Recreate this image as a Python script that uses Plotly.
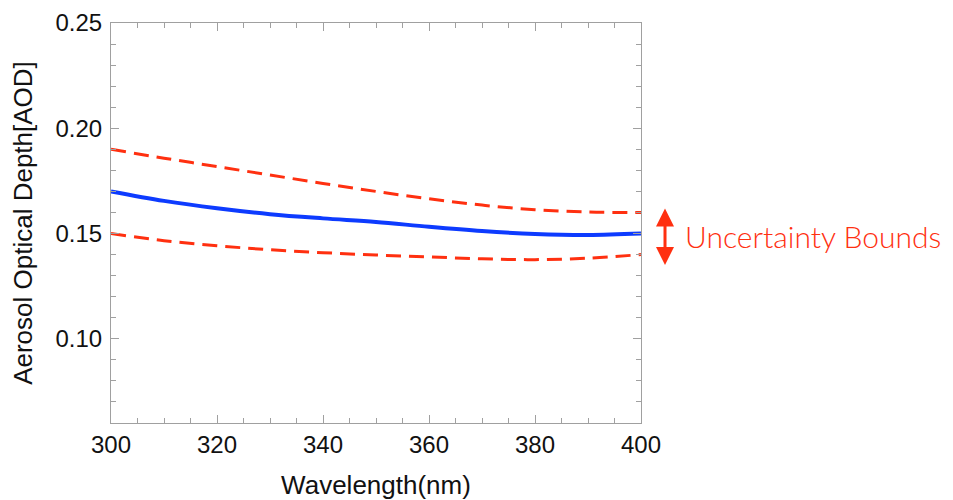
import plotly.graph_objects as go

wavelength = [300, 310, 320, 330, 340, 350, 360, 370, 380, 390, 400]
aod_mean = [0.170, 0.1655, 0.162, 0.1592, 0.1572, 0.1555, 0.1532, 0.1512, 0.1498, 0.1493, 0.150]
aod_upper = [0.190, 0.1858, 0.1818, 0.1778, 0.1738, 0.1700, 0.1665, 0.1635, 0.1613, 0.1602, 0.1600]
aod_lower = [0.150, 0.1466, 0.1442, 0.1423, 0.1409, 0.1398, 0.1389, 0.1380, 0.1376, 0.1383, 0.1400]

x_ticks = [300, 320, 340, 360, 380, 400]
y_ticks = [0.10, 0.15, 0.20, 0.25]

red = "#FF3010"
blue = "#0D3BFF"
font_family = "Liberation Sans, Arial, Helvetica, sans-serif"

fig = go.Figure()
fig.add_trace(go.Scatter(x=wavelength, y=aod_upper, mode="lines",
                         line=dict(color=red, width=3, dash="15px,8px", shape="spline"), showlegend=False))
fig.add_trace(go.Scatter(x=wavelength, y=aod_lower, mode="lines",
                         line=dict(color=red, width=3, dash="15px,8px", shape="spline"), showlegend=False))
fig.add_trace(go.Scatter(x=wavelength, y=aod_mean, mode="lines",
                         line=dict(color=blue, width=4, shape="spline"), showlegend=False))

axis_common = dict(
    showline=True, linecolor="#a0a0a0", linewidth=1, mirror="ticks",
    ticks="inside", tickcolor="#a0a0a0", ticklen=8, showgrid=False, zeroline=False,
    automargin=False,
    tickfont=dict(family=font_family, size=24, color="#111"),
)

fig.update_xaxes(range=[300, 400], tickvals=x_ticks,
                 minor=dict(dtick=5, ticks="inside", ticklen=5, tickcolor="#a0a0a0"),
                 title=dict(text="Wavelength(nm)", font=dict(family=font_family, size=26, color="#111"), standoff=20),
                 ticklabelstandoff=0,
                 **axis_common)
fig.update_yaxes(range=[0.06, 0.25], tickvals=y_ticks, tickformat=".2f",
                 minor=dict(dtick=0.01, tick0=0.0, ticks="inside", ticklen=5, tickcolor="#a0a0a0"),
                 title=dict(text="Aerosol Optical Depth[AOD]", font=dict(family=font_family, size=26, color="#111"), standoff=16),
                 ticklabelstandoff=3,
                 **axis_common)

fig.add_annotation(xref="paper", yref="paper", x=1.0453, y=0.395, ax=0, ay=-58,
                   axref="pixel", ayref="pixel", text="", showarrow=True,
                   arrowhead=2, startarrowhead=2, arrowside="end+start",
                   arrowsize=1.2, arrowwidth=3, arrowcolor=red)
fig.add_annotation(xref="paper", yref="paper", x=1.079, y=0.467, xanchor="left", yanchor="middle",
                   text="Uncertainty Bounds", showarrow=False,
                   font=dict(family="Lato, sans-serif", size=30, color=red, weight=300))

fig.update_layout(width=945, height=492, margin=dict(l=103, r=312, t=15, b=77),
                  plot_bgcolor="white", paper_bgcolor="white")

fig.write_html("out.html")
